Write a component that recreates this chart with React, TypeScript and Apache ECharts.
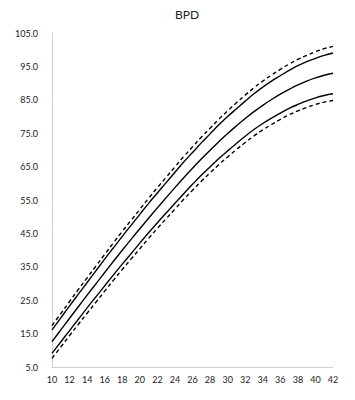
import React, { useEffect, useRef } from "react";
import * as echarts from "echarts";

const weeks = [10,11,12,13,14,15,16,17,18,19,20,21,22,23,24,25,26,27,28,29,30,31,32,33,34,35,36,37,38,39,40,41,42];
const upperDashed = [17.4,21.0,24.6,28.2,31.7,35.2,38.7,42.2,45.6,48.9,52.2,55.5,58.7,61.8,64.9,68.0,70.9,73.8,76.5,79.2,81.7,84.1,86.4,88.6,90.6,92.4,94.1,95.7,97.1,98.3,99.4,100.3,101.0];
const upperSolid = [16.1,19.7,23.3,26.8,30.3,33.8,37.3,40.7,44.1,47.4,50.7,54.0,57.1,60.2,63.3,66.4,69.2,72.1,74.8,77.5,80.0,82.3,84.6,86.8,88.8,90.6,92.2,93.8,95.2,96.4,97.4,98.3,99.0];
const median = [12.6,16.1,19.6,23.05,26.5,29.9,33.3,36.65,39.95,43.2,46.4,49.55,52.65,55.7,58.7,61.65,64.5,67.25,69.9,72.45,74.9,77.2,79.4,81.45,83.35,85.1,86.7,88.15,89.45,90.6,91.55,92.35,92.95];
const lowerSolid = [9.1,12.5,15.9,19.3,22.7,26.0,29.3,32.6,35.8,38.9,42.1,45.2,48.2,51.1,54.0,56.9,59.7,62.4,64.9,67.4,69.7,71.9,74.1,76.1,77.9,79.5,81.0,82.4,83.6,84.7,85.6,86.3,86.8];
const lowerDashed = [7.6,11.0,14.4,17.8,21.1,24.4,27.7,31.0,34.2,37.3,40.4,43.5,46.5,49.4,52.3,55.2,57.9,60.6,63.1,65.6,67.9,70.1,72.2,74.2,76.0,77.6,79.1,80.5,81.7,82.7,83.6,84.3,84.8];
const title = "BPD";

const pairs = (vals: number[]) => weeks.map((w, i) => [w, vals[i]]);

export default function App() {
  const ref = useRef<HTMLDivElement>(null);
  useEffect(() => {
    if (!ref.current) return;
    const chart = echarts.init(ref.current, null, { renderer: "svg" });
    const font = "Lato, 'Open Sans', sans-serif";
    const mk = (name: string, vals: number[], dashed: boolean) => ({
      name,
      type: "line",
      data: pairs(vals),
      showSymbol: false,
      smooth: 0.4,
      lineStyle: { color: "#000", width: 1.4, type: dashed ? [4, 3] : "solid" },
      silent: true,
    });
    chart.setOption({
      animation: false,
      backgroundColor: "#fff",
      graphic: [
        {
          type: "text",
          x: 187,
          y: 14,
          style: { text: title, fontSize: 12, fontFamily: font, fill: "#222", textAlign: "center", textVerticalAlign: "middle" },
        },
      ],
      grid: { left: 52, right: 22, top: 33, bottom: 33 },
      xAxis: {
        type: "value",
        min: 10,
        max: 42,
        interval: 2,
        axisLine: { lineStyle: { color: "#d0d0d0", width: 1 } },
        axisTick: { show: false },
        splitLine: { show: false },
        axisLabel: { color: "#222", fontSize: 9, fontFamily: font, margin: 8 },
      },
      yAxis: {
        type: "value",
        min: 5,
        max: 105,
        interval: 10,
        axisLine: { show: true, lineStyle: { color: "#d0d0d0", width: 1 } },
        axisTick: { show: false },
        splitLine: { show: false },
        axisLabel: { color: "#222", fontSize: 9, fontFamily: font, margin: 14, formatter: (v: number) => v.toFixed(1) },
      },
      series: [
        mk("P97", upperDashed, true),
        mk("P90", upperSolid, false),
        mk("P50", median, false),
        mk("P10", lowerSolid, false),
        mk("P3", lowerDashed, true),
      ],
    });
    return () => chart.dispose();
  }, []);
  return <div ref={ref} style={{ position: "absolute", left: 0, top: 0, width: 355, height: 400 }} />;
}
